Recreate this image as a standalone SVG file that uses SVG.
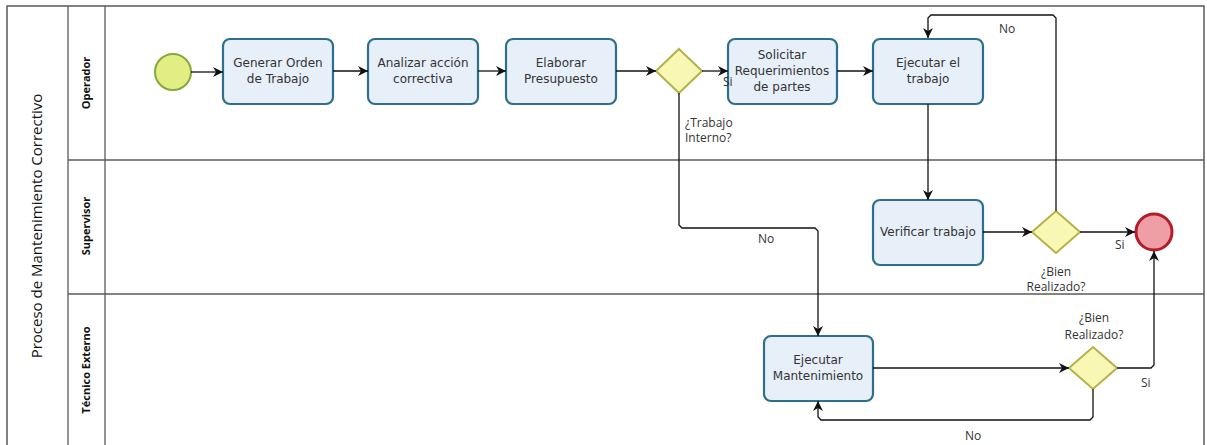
<svg xmlns="http://www.w3.org/2000/svg" width="1207" height="445" viewBox="0 0 1207 445">
  <style>
    .pool { fill: #ffffff; stroke: #5a5a5a; stroke-width: 1.5; }
    .lane { fill: none; stroke: #5a5a5a; stroke-width: 1.3; }
    .task { fill: #e7eff9; stroke: #2f6e8c; stroke-width: 2.2; }
    .gw { fill: #f9f7b4; stroke: #b3b34a; stroke-width: 2; }
    .start { fill: #e2ee84; stroke: #86a83a; stroke-width: 2; }
    .end { fill: #ef9ea6; stroke: #b11d2a; stroke-width: 3; }
    .flow { fill: none; stroke: #111111; stroke-width: 1.3; }
    .tt { font-family: "DejaVu Sans", sans-serif; font-size: 12px; fill: #333333; text-anchor: middle; }
    .lbl { font-family: "Open Sans", "DejaVu Sans", sans-serif; font-size: 12px; fill: #333333; }
    .lanet { font-family: "Open Sans", sans-serif; font-size: 11px; font-weight: bold; fill: #111111; text-anchor: middle; }
    .poolt { font-family: "Open Sans", sans-serif; font-size: 15px; fill: #111111; text-anchor: middle; }
  </style>
  <defs>
    <marker id="arrow" viewBox="0 0 10 10" refX="10" refY="5" markerWidth="10" markerHeight="10" markerUnits="userSpaceOnUse" orient="auto">
      <path d="M0,0 L10,5 L0,10 L3,5 Z" fill="#111111"/>
    </marker>
  </defs>

  <rect width="1207" height="445" fill="#ffffff"/>

  <!-- pool and lanes -->
  <g id="pool">
    <rect class="pool" x="7" y="6" width="1197" height="445"/>
    <line class="lane" x1="68" y1="6" x2="68" y2="446"/>
    <line class="lane" x1="105" y1="6" x2="105" y2="446"/>
    <line class="lane" x1="68" y1="160" x2="1204" y2="160"/>
    <line class="lane" x1="68" y1="294" x2="1204" y2="294"/>
    <text class="poolt" transform="translate(42,226) rotate(-90)">Proceso de Mantenimiento Correctivo</text>
    <text class="lanet" transform="translate(90,83) rotate(-90)">Operador</text>
    <text class="lanet" transform="translate(90,226) rotate(-90)">Supervisor</text>
    <text class="lanet" transform="translate(90,370) rotate(-90)">Técnico Externo</text>
  </g>

  <!-- start event -->
  <g id="start">
    <circle class="start" cx="173" cy="72" r="18"/>
  </g>

  <!-- tasks and gateways -->
  <g id="generar-orden">
    <rect class="task" x="223" y="39" width="110" height="65" rx="7"/>
    <text class="tt" x="278" y="67">Generar Orden</text>
    <text class="tt" x="278" y="83">de Trabajo</text>
  </g>
  <g id="analizar-accion">
    <rect class="task" x="368" y="39" width="110" height="65" rx="7"/>
    <text class="tt" x="423" y="67">Analizar acción</text>
    <text class="tt" x="423" y="83">correctiva</text>
  </g>
  <g id="elaborar-presupuesto">
    <rect class="task" x="506" y="39" width="110" height="65" rx="7"/>
    <text class="tt" x="561" y="67">Elaborar</text>
    <text class="tt" x="561" y="83">Presupuesto</text>
  </g>
  <g id="gw-trabajo-interno">
    <polygon class="gw" points="679,49 702,71 679,93 656,71"/>
  </g>
  <g id="solicitar-requerimientos">
    <rect class="task" x="728" y="39" width="109" height="65" rx="7"/>
    <text class="tt" x="782" y="59">Solicitar</text>
    <text class="tt" x="782" y="75">Requerimientos</text>
    <text class="tt" x="782" y="91">de partes</text>
  </g>
  <g id="ejecutar-trabajo">
    <rect class="task" x="873" y="39" width="110" height="65" rx="7"/>
    <text class="tt" x="928" y="67">Ejecutar el</text>
    <text class="tt" x="928" y="83">trabajo</text>
  </g>
  <g id="verificar-trabajo">
    <rect class="task" x="873" y="200" width="110" height="65" rx="7"/>
    <text class="tt" x="928" y="236">Verificar trabajo</text>
  </g>
  <g id="gw-bien-supervisor">
    <polygon class="gw" points="1056,211 1080,232 1056,253 1032,232"/>
    <text class="lbl" x="1056" y="276" text-anchor="middle">¿Bien</text>
    <text class="lbl" x="1056" y="291" text-anchor="middle">Realizado?</text>
  </g>
  <g id="end">
    <circle class="end" cx="1154" cy="232" r="18"/>
  </g>
  <g id="ejecutar-mantenimiento">
    <rect class="task" x="764" y="336" width="109" height="65" rx="7"/>
    <text class="tt" x="818" y="364">Ejecutar</text>
    <text class="tt" x="818" y="380">Mantenimiento</text>
  </g>
  <g id="gw-bien-tecnico">
    <polygon class="gw" points="1093,347 1117,368 1093,389 1069,368"/>
    <text class="lbl" x="1094" y="322" text-anchor="middle">¿Bien</text>
    <text class="lbl" x="1094" y="339" text-anchor="middle">Realizado?</text>
  </g>

  <!-- sequence flows -->
  <g id="connectors">
    <path class="flow" marker-end="url(#arrow)" d="M191,72 L223,72"/>
    <path class="flow" marker-end="url(#arrow)" d="M333,71 L368,71"/>
    <path class="flow" marker-end="url(#arrow)" d="M478,71 L506,71"/>
    <path class="flow" marker-end="url(#arrow)" d="M616,71 L656,71"/>
    <path class="flow" marker-end="url(#arrow)" d="M702,71 L728,71"/>
    <path class="flow" marker-end="url(#arrow)" d="M837,71 L873,71"/>
    <path class="flow" marker-end="url(#arrow)" d="M928,104 L928,200"/>
    <path class="flow" marker-end="url(#arrow)" d="M983,232 L1032,232"/>
    <path class="flow" marker-end="url(#arrow)" d="M1080,232 L1135,232"/>
    <path class="flow" marker-end="url(#arrow)" d="M1056,211 L1056,18 L1053,15 L931,15 L928,18 L928,38"/>
    <path class="flow" marker-end="url(#arrow)" d="M679,93 L679,225 L682,228 L815,228 L818,231 L818,336"/>
    <path class="flow" marker-end="url(#arrow)" d="M873,368 L1069,368"/>
    <path class="flow" marker-end="url(#arrow)" d="M1117,368 L1151,368 L1154,365 L1154,251"/>
    <path class="flow" marker-end="url(#arrow)" d="M1093,389 L1093,417 L1090,420 L821,420 L818,417 L818,401"/>
    <text class="lbl" x="723" y="86">Si</text>
    <text class="lbl" x="685" y="127">¿Trabajo</text>
    <text class="lbl" x="685" y="142">Interno?</text>
    <text class="lbl" x="758" y="243">No</text>
    <text class="lbl" x="999" y="33">No</text>
    <text class="lbl" x="1115" y="249">Si</text>
    <text class="lbl" x="1141" y="387">Si</text>
    <text class="lbl" x="965" y="440">No</text>
  </g>
</svg>
